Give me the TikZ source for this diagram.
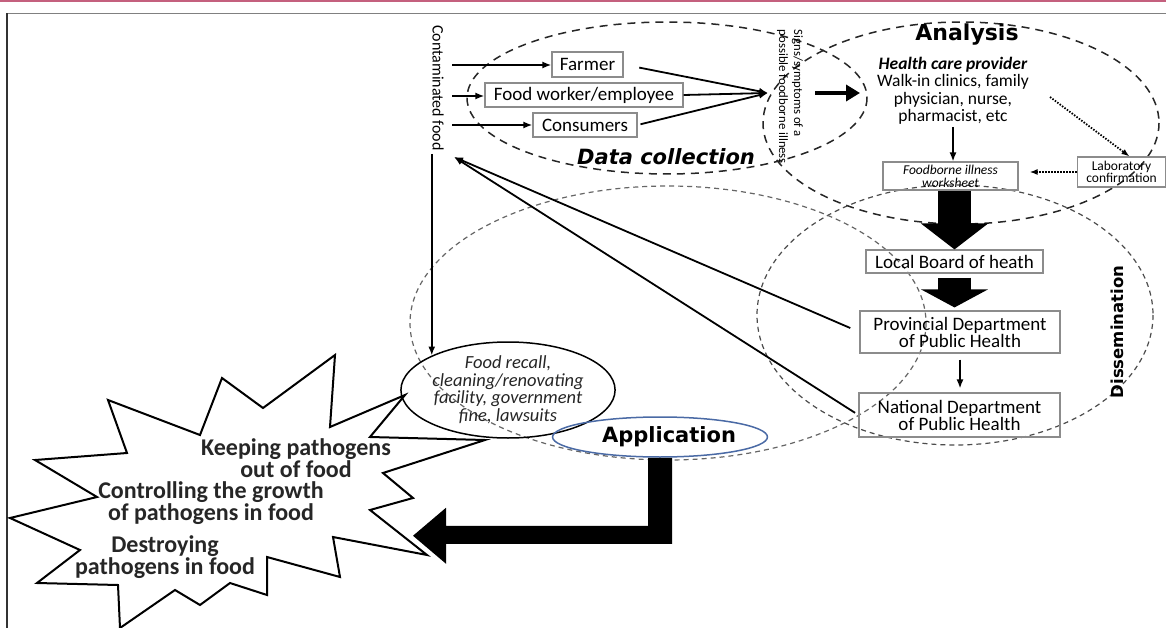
\documentclass[tikz,border=0pt]{standalone}
\usepackage{fontspec}
\setmainfont{Carlito}
\newfontfamily\heavy{DejaVu Sans}
\usetikzlibrary{arrows.meta,shapes.geometric,calc}
\definecolor{pinkline}{HTML}{C4607E}
\definecolor{appblue}{HTML}{4A6AA5}
\definecolor{boxgray}{HTML}{8C8C8C}
\begin{document}
\begin{tikzpicture}[x=1pt,y=-1pt,
 box/.style={draw=boxgray, line width=1.1pt, inner sep=0pt, align=center, font=\fontsize{19}{17}\selectfont},
 bigell/.style={draw=black!85, line width=1.5pt, dash pattern=on 8pt off 6pt},
 fineell/.style={draw=black!70, line width=1.2pt, dash pattern=on 5pt off 4pt},
 conn/.style={draw=black, line width=1.8pt, -{Latex[length=9pt,width=7pt]}},
 dotconn/.style={draw=black, line width=1.8pt, dash pattern=on 1.5pt off 1.5pt, -{Latex[length=8pt,width=6pt]}},
 blockarrow/.style={draw=black, line width=33pt, -{Triangle[length=#1,width=66pt]}},
 heavylabel/.style={font=\heavy\bfseries\fontsize{21}{24}\selectfont, text=black},
 startext/.style={font=\bfseries\fontsize{24}{20.5}\selectfont, align=center, text=black!85},
]
\fill[white] (0,0) rectangle (1166,628);
\useasboundingbox (0,0) rectangle (1166,628);
% frame
\fill[pinkline] (0,0) rectangle (1166,2);
\draw[gray, line width=1.5pt] (7,13.5) -- (1166,13.5);
\draw[black!80, line width=1.5pt] (7,13.5) -- (7,628);

% dashed ellipses
\draw[bigell] (667,98) ellipse [x radius=200, y radius=76];
\draw[bigell] (961,123) ellipse [x radius=198, y radius=101];
\draw[fineell] (955,315) ellipse [x radius=198, y radius=130];
\draw[fineell, draw=black!60] (668,323) ellipse [x radius=258, y radius=137];

% data collection
\node[rotate=-90, inner sep=3pt, font=\fontsize{16}{18}\selectfont] (cf) at (438,88) {Contaminated food};
\node[box, minimum width=71, minimum height=25] (farmer) at (587.5,64.5) {Farmer};
\node[box, minimum width=198, minimum height=24] (worker) at (584,95) {Food worker/employee};
\node[box, minimum width=104, minimum height=24] (cons) at (585,125) {Consumers};
\coordinate (s1) at (452,65);
\coordinate (s2) at (452,96);
\coordinate (s3) at (452,125);
\coordinate (conv) at (768,93);
\draw[conn] (s1) -- (s1 -| farmer.west);
\draw[conn] (s2) -- (s2 -| worker.west);
\draw[conn] (s3) -- (s3 -| cons.west);
\draw[conn, shorten <=16pt] (farmer.east) -- (conv);
\draw[conn] (worker.east) -- (conv);
\draw[conn, shorten <=3pt] (cons.east) -- (conv);
\node[rotate=-90, align=left, inner sep=0pt, font=\fontsize{12.7}{15}\selectfont] (signs) at (790,97) {Signs/symptoms of a\\possible foodborne illness};
\node[heavylabel, font=\heavy\bfseries\itshape\fontsize{21}{24}\selectfont] (dclabel) at (666,157) {Data collection};
\coordinate (ta1) at (815,93);
\coordinate (ta2) at (860,93);
\draw[line width=4.5pt, -{Triangle[length=14pt,width=16pt]}] (ta1) -- (ta2);

% analysis
\node[heavylabel, font=\heavy\bfseries\fontsize{22}{24}\selectfont] (analysis) at (967,35) {Analysis};
\node[align=center, inner sep=0pt, font=\fontsize{17.5}{17.5}\selectfont] (hcp) at (953,91) {\textbf{\textit{Health care provider}}\\Walk-in clinics, family\\physician, nurse,\\pharmacist, etc};
\node[box, minimum width=135, minimum height=28, font=\itshape\fontsize{13.5}{13}\selectfont] (ws) at (950.5,176) {Foodborne illness\\worksheet};
\node[box, minimum width=88, minimum height=30, font=\fontsize{13.5}{12.5}\selectfont] (lab) at (1121.5,172) {Laboratory\\confirmation};
\coordinate (d1) at (1050,97);
\draw[conn, line width=1.6pt, shorten <=2pt] (hcp.south) -- (hcp.south |- ws.north);
\draw[dotconn] (d1) -- ([xshift=8pt]lab.north);
\draw[dotconn, shorten >=11pt] (lab.west) -- (lab.west -| ws.east);

% dissemination
\node[box, minimum width=177, minimum height=23] (local) at (954.5,261.5) {Local Board of heath};
\node[box, minimum width=200, minimum height=42] (prov) at (960,332) {Provincial Department\\of Public Health};
\node[box, minimum width=201, minimum height=44] (natl) at (959.5,415) {National Department\\of Public Health};
\node[heavylabel, rotate=90, font=\heavy\bfseries\fontsize{16.5}{20}\selectfont] (diss) at (1117,332) {Dissemination};
\draw[blockarrow=26pt] (ws.south -| local.north) -- (local.north);
\draw[blockarrow=18pt, shorten <=4pt, shorten >=3pt] (local.south) -- (local.south |- prov.north);
\draw[conn, line width=1.6pt, shorten <=6pt, shorten >=4pt] (prov.south) -- (prov.south |- natl.north);
\coordinate (cfb) at (454,157);
\draw[conn, shorten <=10pt] (prov.west) -- (cfb);
\draw[conn, shorten <=4pt] (natl.west) -- (cfb);

% application
\node[ellipse, draw=black, line width=1.5pt, minimum width=188, minimum height=96, inner sep=0pt, align=center, font=\itshape\fontsize{18.5}{17.5}\selectfont, text=black!85] (recall) at (508,390) {Food recall,\\cleaning/renovating\\facility, government\\fine, lawsuits};
\draw[conn] (recall.north west |- cf.east) -- (recall.north west);
\node[ellipse, draw=appblue, line width=1.5pt, minimum width=204, minimum height=40, inner sep=0pt, heavylabel] (app) at (660,437) {\hspace*{18pt}Application};

% star
\draw[line width=2pt, fill=white, line join=miter] (335,355) -- (330,427) -- (405,395) -- (370,437) -- (485,440) -- (383,473) -- (413,498) -- (370,510) -- (427,555) -- (333,537) -- (340,577) -- (267,557) -- (267,595) -- (230,583) -- (200,605) -- (175,590) -- (120,628) -- (118,585) -- (37,583) -- (80,550) -- (10,518) -- (97,497) -- (35,460) -- (127,453) -- (108,400) -- (200,435) -- (222,378) -- (263,408) -- cycle;
\node[startext] (keep) at (296,458) {Keeping pathogens\\out of food};
\node[startext] (ctrl) at (211,503) {Controlling the growth\\of pathogens in food};
\node[startext] (dest) at (165,557) {Destroying\\pathogens in food};

% elbow block arrow from Application to the star
\fill ($(app.south)+(-12,0)$) -- ($(app.south)+(12,0)$) -- ($(app.south)+(12,86)$) -- ($(app.south)+(-214,86)$) -- ($(app.south)+(-214,106)$) -- ($(app.south)+(-247,78)$) -- ($(app.south)+(-214,50)$) -- ($(app.south)+(-214,68)$) -- ($(app.south)+(-12,68)$) -- cycle;
\end{tikzpicture}
\end{document}
